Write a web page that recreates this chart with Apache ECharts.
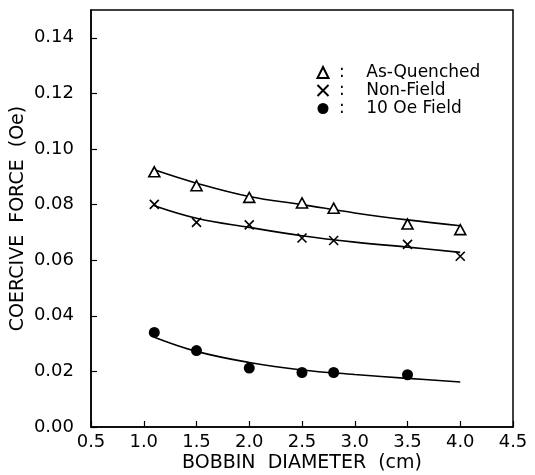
<!DOCTYPE html>
<html>
<head>
<meta charset="utf-8">
<script src="https://cdn.jsdelivr.net/npm/echarts@6/dist/echarts.min.js"></script>
<style>
    html, body { margin: 0; padding: 0; background: #fff; }
    #chartDiv { width: 535px; height: 475px; }
</style>
</head>
<body>
<div id="chartDiv"></div>
<script>
    // measured points
    var diameters = [1.1, 1.5, 2.0, 2.5, 2.8, 3.5, 4.0];
    var asQuenched = [0.0918, 0.0868, 0.0826, 0.0806, 0.0787, 0.0730, 0.0710];
    var nonField = [0.0801, 0.0736, 0.0727, 0.0680, 0.0671, 0.0657, 0.0614];
    var fieldDiameters = [1.1, 1.5, 2.0, 2.5, 2.8, 3.5];
    var field10 = [0.0340, 0.0275, 0.0212, 0.0196, 0.0196, 0.0188];

    // fitted curves
    var fitX = [1.1, 1.5, 2.0, 2.5, 3.0, 3.5, 4.0];
    var fitAsQuenched = [0.0925, 0.0877, 0.0829, 0.0800, 0.0770, 0.0745, 0.0724];
    var fitNonField = [0.0796, 0.0751, 0.0718, 0.0688, 0.0665, 0.0647, 0.0628];
    var fitField10 = [0.0323, 0.0272, 0.0232, 0.0205, 0.0189, 0.0175, 0.0162];

    var xTicks = ['0.5', '1.0', '1.5', '2.0', '2.5', '3.0', '3.5', '4.0', '4.5'];
    var yTicks = ['0.00', '0.02', '0.04', '0.06', '0.08', '0.10', '0.12', '0.14'];

    function pairs(xs, ys) {
        return xs.map(function (x, i) { return [x, ys[i]]; });
    }

    var font = 'DejaVu Sans';
    var chart = echarts.init(document.getElementById('chartDiv'));

    function fitLine(name, ys) {
        return {
            name: name, type: 'line', data: pairs(fitX, ys), smooth: 0.4,
            showSymbol: false, silent: true, z: 1,
            lineStyle: { color: '#000', width: 1.6 }
        };
    }

    chart.setOption({
        animation: false,
        backgroundColor: '#fff',
        grid: {
            left: 91, right: 22, top: 10, bottom: 48, outerBoundsMode: 'none', containLabel: false,
            show: true, borderColor: '#000', borderWidth: 1.5
        },
        legend: {
            orient: 'vertical', left: 310, top: 59, itemGap: 1,
            itemWidth: 11, itemHeight: 11,
            data: ['As-Quenched', 'Non-Field', '10 Oe Field'],
            formatter: function (n) { return ' :    ' + n; },
            textStyle: { fontFamily: font, fontSize: 17, lineHeight: 17, color: '#000' }
        },
        xAxis: {
            type: 'value', min: 0.5, max: 4.5, interval: 0.5,
            name: 'BOBBIN  DIAMETER  (cm)', nameLocation: 'middle', nameGap: 27, nameMoveOverlap: false,
            nameTextStyle: { fontFamily: font, fontSize: 19, color: '#000' },
            axisLine: { lineStyle: { color: '#000', width: 1.5 } },
            axisTick: { inside: true, length: 6, lineStyle: { color: '#000', width: 1.2 } },
            axisLabel: {
                fontFamily: font, fontSize: 18, color: '#000', margin: 6,
                formatter: function (v) { return xTicks[Math.round((v - 0.5) / 0.5)]; }
            },
            splitLine: { show: false }
        },
        yAxis: {
            type: 'value', min: 0, max: 0.15, interval: 0.02,
            name: 'COERCIVE  FORCE  (Oe)', nameLocation: 'middle', nameGap: 63, nameMoveOverlap: false,
            nameTextStyle: { fontFamily: font, fontSize: 19, color: '#000' },
            axisLine: { lineStyle: { color: '#000', width: 1.5 } },
            axisTick: { inside: true, length: 6, lineStyle: { color: '#000', width: 1.2 } },
            axisLabel: {
                fontFamily: font, fontSize: 18, color: '#000', margin: 17, showMaxLabel: false,
                formatter: function (v) {
                    var i = Math.round(v / 0.02);
                    return i < yTicks.length ? yTicks[i] : '';
                }
            },
            splitLine: { show: false }
        },
        series: [
            fitLine('fitA', fitAsQuenched),
            fitLine('fitN', fitNonField),
            fitLine('fitF', fitField10),
            {
                name: 'As-Quenched', type: 'scatter', data: pairs(diameters, asQuenched),
                symbol: 'triangle', symbolSize: [11, 10], z: 3,
                itemStyle: { color: '#fff', borderColor: '#000', borderWidth: 1.6, opacity: 1 }
            },
            {
                name: 'Non-Field', type: 'scatter', data: pairs(diameters, nonField),
                symbol: 'path://M0,0L10,10M10,0L0,10', symbolSize: 9, z: 3,
                itemStyle: { color: 'none', borderColor: '#000', borderWidth: 1.6, opacity: 1 }
            },
            {
                name: '10 Oe Field', type: 'scatter', data: pairs(fieldDiameters, field10),
                symbol: 'circle', symbolSize: 11, z: 3,
                itemStyle: { color: '#000', opacity: 1 }
            }
        ]
    });
</script>
</body>
</html>
